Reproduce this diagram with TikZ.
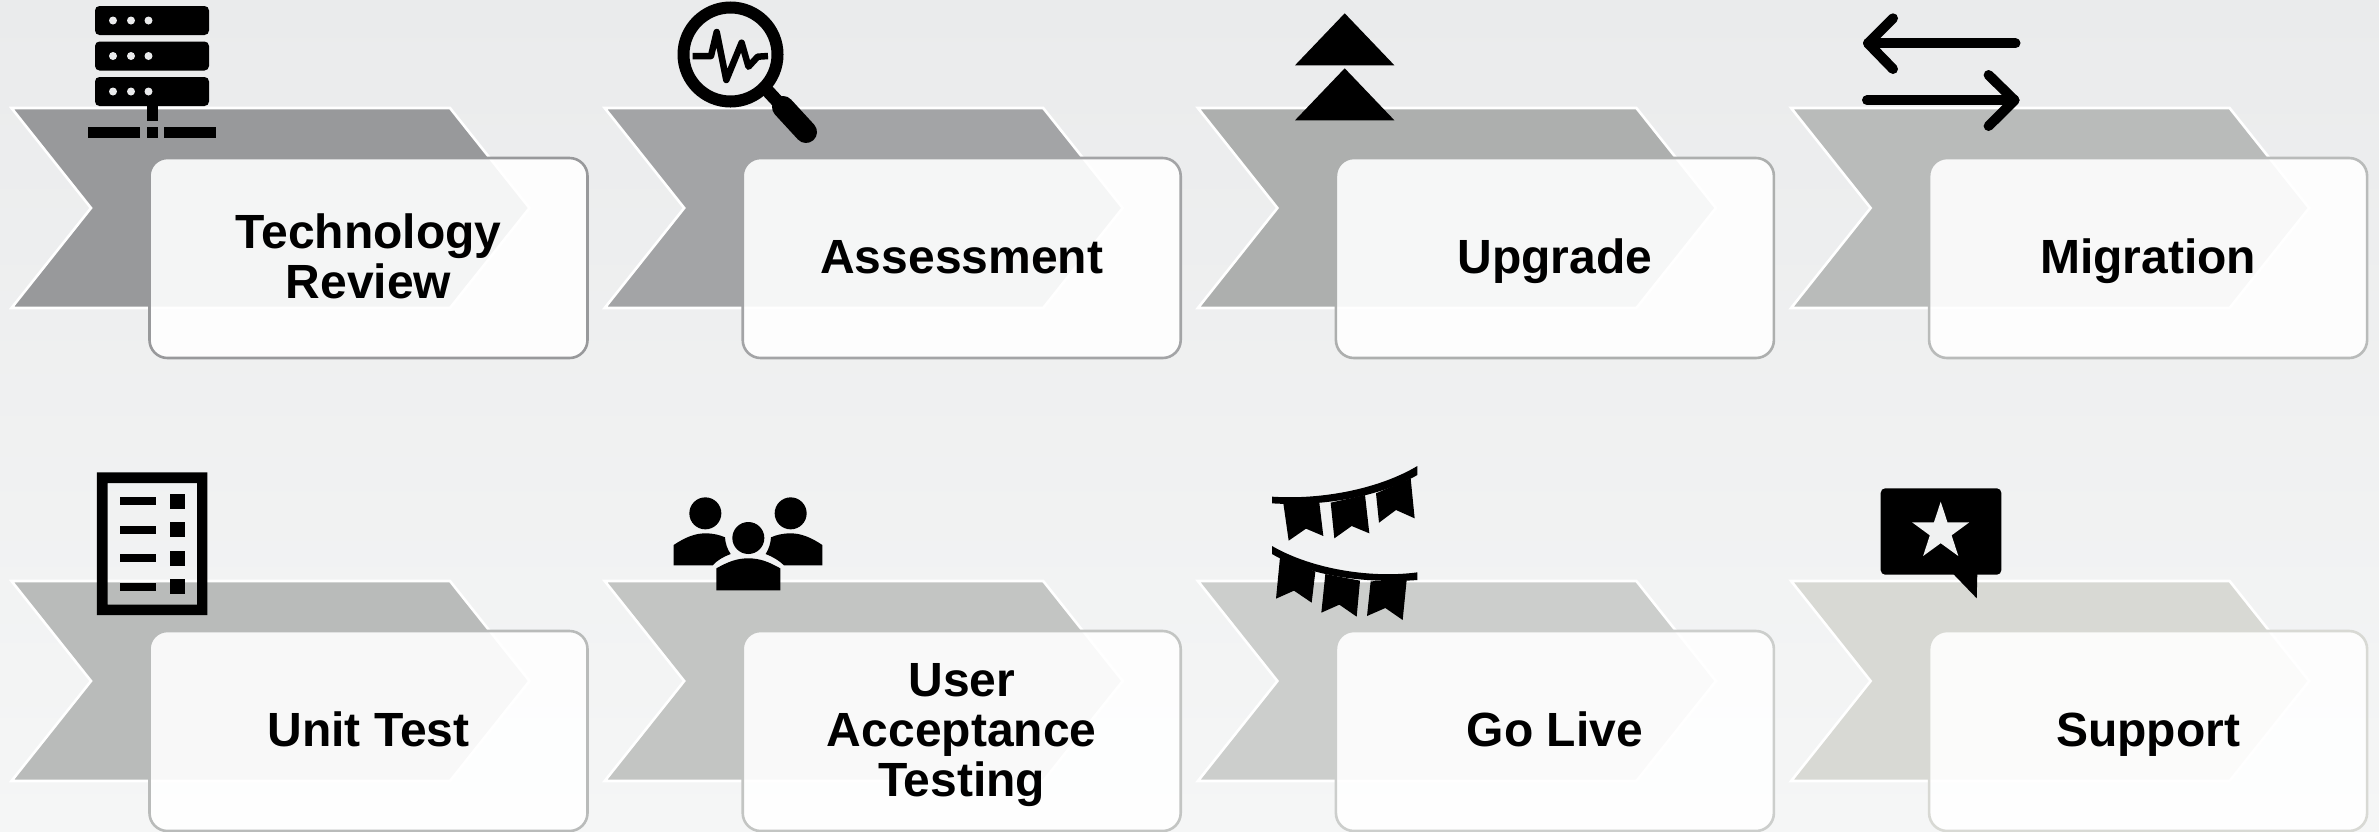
\documentclass[tikz,border=0pt]{standalone}
\usepackage{fontspec}
\setmainfont{Liberation Sans}
\definecolor{cA}{HTML}{98999B}
\definecolor{cB}{HTML}{A3A4A6}
\definecolor{cC}{HTML}{ADAFAE}
\definecolor{cD}{HTML}{B9BBBA}
\definecolor{cE}{HTML}{B9BBBA}
\definecolor{cF}{HTML}{C3C5C3}
\definecolor{cG}{HTML}{CCCECC}
\definecolor{cH}{HTML}{D8D9D4}
\definecolor{bgtop}{HTML}{EAEBEC}
\definecolor{bgmid}{HTML}{F0F1F1}
\definecolor{bgbot}{HTML}{F5F6F6}
\tikzset{
  chev/.style={fill=#1,draw=white,line width=2.6pt,line join=miter},
  panel/.style={fill=white,fill opacity=.9,draw=#1,draw opacity=1,line width=2.6pt,rounded corners=18pt},
  lab/.style={font=\fontsize{48}{50}\selectfont\bfseries,align=center,inner sep=0pt,anchor=base,text=black},
  ink/.style={fill=black,draw=none},
  inkline/.style={draw=black,line cap=round,line join=round,fill=none},
}
\newcommand{\stagebox}[3]{%
  \begin{scope}[shift={(#1,#2)}]
    \path[chev=#3] (11.5,108) -- (450,108) -- (529.5,208) -- (450,308) -- (11.5,308) -- (91,208) -- cycle;
    \path[panel=#3] (149.5,158) rectangle (587.5,358);
  \end{scope}}
\begin{document}
\begin{tikzpicture}[x=1pt,y=-1pt]
\useasboundingbox (0,0) rectangle (2379,831);
\shade[top color=bgtop,middle color=bgmid,bottom color=bgbot] (0,0) rectangle (2379,831);
\clip (0,0) rectangle (2379,831);
\stagebox{0}{0}{cA}
\stagebox{593.2}{0}{cB}
\stagebox{1186.4}{0}{cC}
\stagebox{1779.6}{0}{cD}
\stagebox{0}{473}{cE}
\stagebox{593.2}{473}{cF}
\stagebox{1186.4}{473}{cG}
\stagebox{1779.6}{473}{cH}
% labels
\node[lab] (t1) at (368.5,298) {Technology\\Review};
\node[lab] (t2) at (961.7,273) {Assessment};
\node[lab] (t3) at (1554.9,273) {Upgrade};
\node[lab] (t4) at (2148.1,273) {Migration};
\node[lab] (t5) at (368.5,746) {Unit Test};
\node[lab] (t6) at (961.7,796) {User\\Acceptance\\Testing};
\node[lab] (t7) at (1554.9,746) {Go Live};
\node[lab] (t8) at (2148.1,746) {Support};
% server
\foreach \y in {6,41.5,77}{
  \fill[black,rounded corners=4.5pt] (95,\y) rectangle (209,\y+29);
  \foreach \x in {113,131,148.5}{\fill[bgtop] (\x,\y+14.5) circle (4);}
}
\fill[ink] (147,106) rectangle (158,120.7);
\fill[ink] (88,127) rectangle (140,138);
\fill[ink] (147,127) rectangle (158,138);
\fill[ink] (164,127) rectangle (216,138);
% magnifier
\draw[black,line width=12pt] (730.5,54.5) circle (47);
\draw[black,line width=13pt] (765,88) -- (778,102);
\draw[black,line width=22pt,line cap=round] (783,107) -- (806,132);
\draw[draw=black,line join=round,line width=6.5pt] (692.5,56) -- (711,56) -- (716.7,32) -- (726.3,80) -- (741.6,42.7) -- (748.5,66.7) -- (757.7,56.7) -- (768,56);
% upgrade
\fill[ink] (1344.7,13.3) -- (1394.4,65.3) -- (1295,65.3) -- cycle;
\fill[ink] (1344.7,68.3) -- (1394.4,120.3) -- (1295,120.3) -- cycle;
% migrate
\draw[inkline,line width=10pt] (2015.5,43.3) -- (1868,43.3);
\draw[inkline,line width=10pt] (1893,18.3) -- (1868,43.3) -- (1893,69);
\draw[inkline,line width=10pt] (1867,100.3) -- (2014.5,100.3);
\draw[inkline,line width=10pt] (1988.6,75) -- (2014.5,100.3) -- (1988.6,126);
% document
\fill[ink,even odd rule] (96.8,472.3) rectangle (207.4,615) (107.5,483) rectangle (197,604.7);
\foreach \a/\b in {497/505,526/534,554/562,583/591}{\fill[ink] (120,\a) rectangle (156,\b);}
\foreach \a/\b in {494/509,522/537,551/566,579/594}{\fill[ink] (170,\a) rectangle (185,\b);}
% people
\begin{scope}[shift={(600,450)},x=.33333pt,y=-.33333pt]
  \fill[ink] (316,190) circle [radius=48];
  \fill[ink] (572,190) circle [radius=48];
  \fill[ink] (445,264) circle [radius=48];
  \fill[ink] (349,421) -- (349,355) .. controls (385,335) and (410,325) .. (445,325) .. controls (480,325) and (505,335) .. (541,355) -- (541,421) -- cycle;
  \fill[ink] (221,346) -- (221,285) .. controls (255,262) and (285,250) .. (316,250) .. controls (340,250) and (360,255) .. (375,262) .. controls (376,280) and (382,298) .. (392,312) .. controls (370,320) and (350,332) .. (338,346) -- cycle;
  \fill[ink] (667,346) -- (667,285) .. controls (633,262) and (603,250) .. (572,250) .. controls (548,250) and (528,255) .. (513,262) .. controls (512,280) and (506,298) .. (497,312) .. controls (518,320) and (538,332) .. (552,346) -- cycle;
\end{scope}
% bunting
\begin{scope}[shift={(1240,450)},x=.33333pt,y=-.33333pt]
  \fill[ink] (96,140) .. controls (250,150) and (420,115) .. (532,48) -- (532,75) .. controls (420,140) and (250,170) .. (96,160) -- cycle;
  \fill[ink] (130,160) -- (238,158) -- (250,258) -- (198,236) -- (146,272) -- cycle;
  \fill[ink] (272,158) -- (375,135) -- (388,250) -- (335,228) -- (283,265) -- cycle;
  \fill[ink] (408,130) -- (512,85) -- (524,205) -- (468,180) -- (417,218) -- cycle;
  \fill[ink] (96,288) .. controls (220,360) and (400,385) .. (532,367) -- (532,390) .. controls (400,400) and (220,385) .. (96,312) -- cycle;
  \fill[ink] (120,322) -- (226,365) -- (215,458) -- (162,422) -- (108,446) -- cycle;
  \fill[ink] (256,372) -- (360,392) -- (350,500) -- (298,464) -- (244,488) -- cycle;
  \fill[ink] (392,394) -- (500,390) -- (488,510) -- (436,474) -- (381,498) -- cycle;
\end{scope}
% speech bubble
\fill[black,rounded corners=4.5pt] (1880.7,488.3) rectangle (2001.3,574.7);
\fill[ink] (1953.3,574) -- (1976.7,598.3) -- (1977.3,574) -- cycle;
\fill[bgmid] (1940.7,501.7) -- (1947.5,522.4) -- (1969.2,522.4) -- (1951.6,535.3) -- (1958.3,556) -- (1940.7,543.2) -- (1923.1,556) -- (1929.8,535.3) -- (1912.2,522.4) -- (1933.9,522.4) -- cycle;
\end{tikzpicture}
\end{document}
